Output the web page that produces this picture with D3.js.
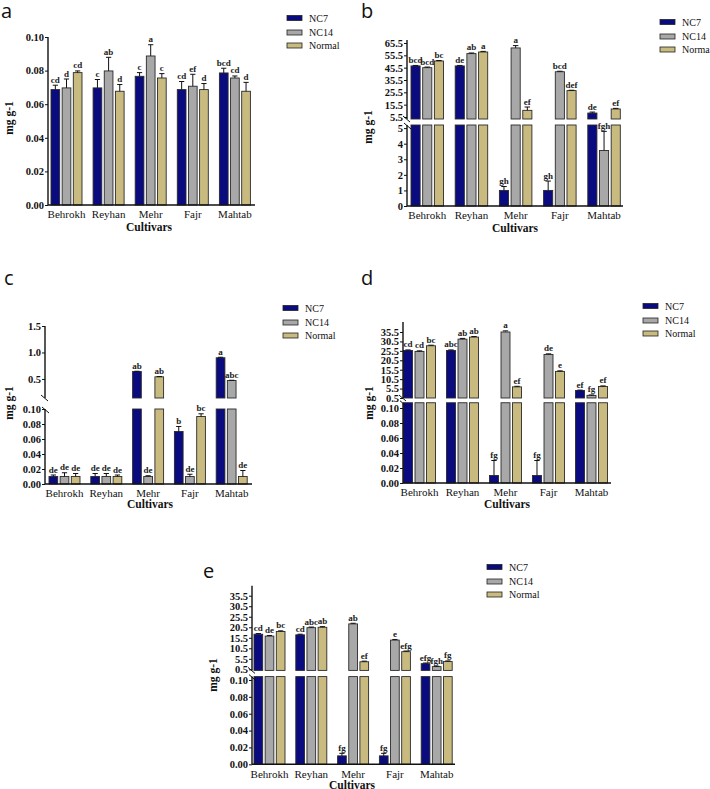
<!DOCTYPE html>
<html><head><meta charset="utf-8">
<script src="https://cdn.jsdelivr.net/npm/d3@7"></script>
<style>body{margin:0;background:#fff} svg{display:block}</style>
</head><body>
<svg id="chart" width="710" height="789"></svg>
<script>
const cultivars = ["Behrokh", "Reyhan", "Mehr", "Fajr", "Mahtab"];
const series = ["NC7", "NC14", "Normal"];
const colors = ["#0b0b80", "#a8a8a8", "#c9bb80"];

// rows: NC7, NC14, Normal ; columns: cultivars
const aMeans = [[0.0687, 0.0697, 0.0766, 0.0687, 0.0786],
                [0.0697, 0.0798, 0.0887, 0.0707, 0.0756],
                [0.0788, 0.0677, 0.0756, 0.0687, 0.0677]];
const aErrs = [[0.0026, 0.005, 0.0022, 0.0048, 0.0028],
               [0.0053, 0.0081, 0.0067, 0.0071, 0.0012],
               [0.001, 0.004, 0.0026, 0.0036, 0.0053]];
const aLetters = [["cd", "c", "c", "cd", "bcd"],
                  ["d", "ab", "a", "ef", "cd"],
                  ["cd", "d", "c", "d", "d"]];

const bMeans = [[46.9, 46.9, 1.0, 1.0, 8.7],
                [45.5, 56.9, 61.5, 42.2, 3.56],
                [50.9, 58.2, 10.9, 26.9, 12.0]];
const bErrs = [[0.4, 0.4, 0.25, 0.6, 0.8],
               [0.5, 0.5, 1.9, 0.4, 1.23],
               [0.4, 0.5, 2.7, 0.3, 0.5]];
const bLetters = [["bcd", "de", "gh", "gh", "de"],
                  ["bcd", "ab", "a", "bcd", "fgh"],
                  ["bc", "a", "ef", "def", "ef"]];

const cMeans = [[0.01, 0.01, 0.64, 0.07, 0.9],
                [0.01, 0.01, 0.01, 0.01, 0.47],
                [0.01, 0.01, 0.54, 0.09, 0.01]];
const cErrs = [[0.002, 0.004, 0.005, 0.0067, 0.01],
               [0.005, 0.004, 0.001, 0.003, 0.005],
               [0.004, 0.002, 0.005, 0.0036, 0.008]];
const cLetters = [["de", "de", "ab", "b", "a"],
                  ["de", "de", "de", "de", "abc"],
                  ["de", "de", "ab", "bc", "de"]];

const dMeans = [[25.7, 25.7, 0.01, 0.01, 4.5],
                [25.2, 31.7, 35.8, 23.6, 1.9],
                [28.2, 32.8, 6.4, 14.6, 6.6]];
const dErrs = [[0.3, 0.3, 0.02, 0.02, 0.2],
               [0.3, 0.4, 0.3, 0.3, 0.2],
               [0.3, 0.3, 0.3, 0.3, 0.3]];
const dLetters = [["cd", "abc", "fg", "fg", "ef"],
                  ["cd", "ab", "a", "de", "fg"],
                  ["bc", "ab", "ef", "e", "ef"]];

const eMeans = [[17.2, 16.9, 0.01, 0.01, 3.2],
                [16.3, 20.3, 22.1, 14.4, 1.8],
                [18.5, 20.5, 4.1, 8.9, 4.2]];
const eErrs = [[0.3, 0.3, 0.003, 0.003, 0.3],
               [0.3, 0.3, 0.3, 0.3, 0.2],
               [0.3, 0.3, 0.3, 0.3, 0.3]];
const eLetters = [["cd", "cd", "fg", "fg", "efg"],
                  ["de", "abc", "ab", "e", "fgh"],
                  ["bc", "ab", "ef", "efg", "fg"]];

const ticksSmall = [0, 0.02, 0.04, 0.06, 0.08, 0.10];
const ticksB_low = [0, 1, 2, 3, 4, 5];
const ticksB_up = [5.5, 15.5, 25.5, 35.5, 45.5, 55.5, 65.5];
const ticksC_up = [0.5, 1.0, 1.5];
const ticksDE_up = [0.5, 5.5, 10.5, 15.5, 20.5, 25.5, 30.5, 35.5];

const panels = [
  {tag: "a", means: aMeans, errs: aErrs, letters: aLetters, tagPos: [1, 18],
   axisX: 48, firstX: 51, step: 42.1, groupW: 31, xEnd: 255,
   segs: [{domain: [0, 0.1], range: [205, 37], ticks: ticksSmall, fmt: ".2f", ext: 0}],
   ylab: [9, 118], xlab: [149, 231], legend: [287, 18]},
  {tag: "b", means: bMeans, errs: bErrs, letters: bLetters, tagPos: [361, 18],
   axisX: 407, firstX: 411, step: 44.2, groupW: 32.5, xEnd: 623,
   segs: [{domain: [0, 5.2], range: [206, 125], ticks: ticksB_low, fmt: "d", ext: 0},
          {domain: [3.88, 65.5], range: [119, 43], ticks: ticksB_up, fmt: ".1f", ext: 3}],
   ylab: [368, 127], xlab: [515, 232], legend: [660, 22]},
  {tag: "c", means: cMeans, errs: cErrs, letters: cLetters, tagPos: [4, 285],
   axisX: 45, firstX: 49, step: 41.8, groupW: 31, xEnd: 252,
   segs: [{domain: [0, 0.1], range: [484, 409], ticks: ticksSmall, fmt: ".2f", ext: 0},
          {domain: [0.14, 1.5], range: [398, 326], ticks: ticksC_up, fmt: ".1f", ext: 0}],
   ylab: [9, 403], xlab: [150, 508], legend: [283, 308]},
  {tag: "d", means: dMeans, errs: dErrs, letters: dLetters, tagPos: [361, 285],
   axisX: 403, firstX: 403.5, step: 43, groupW: 32, xEnd: 611,
   segs: [{domain: [0, 0.107], range: [483, 402.75], ticks: ticksSmall, fmt: ".2f", ext: 0},
          {domain: [0.5, 35.5], range: [398, 332], ticks: ticksDE_up, fmt: ".1f", ext: 10}],
   ylab: [369, 403], xlab: [507, 508], legend: [643, 306]},
  {tag: "e", means: eMeans, errs: eErrs, letters: eLetters, tagPos: [203, 578],
   axisX: 252, firstX: 254, step: 41.8, groupW: 31, xEnd: 455,
   segs: [{domain: [0, 0.104], range: [764.3, 676.6], ticks: ticksSmall, fmt: ".2f", ext: 0},
          {domain: [0, 35.5], range: [670.4, 595.7], ticks: ticksDE_up, fmt: ".1f", ext: 10}],
   ylab: [213, 675], xlab: [352, 789], legend: [487, 567]}
];

const svg = d3.select("#chart");
const serif = "Liberation Serif";

panels.forEach(p => {
  const g = svg.append("g");
  const pad = 1 - p.groupW / p.step;
  const x0 = d3.scaleBand().domain(cultivars)
    .range([p.firstX, p.firstX + p.step * (cultivars.length - pad)])
    .paddingInner(pad).paddingOuter(0);
  const x1 = d3.scaleBand().domain(series).range([0, x0.bandwidth()]).paddingInner(0.22);
  const segs = p.segs.map(s => Object.assign({}, s, {y: d3.scaleLinear().domain(s.domain).range(s.range)}));
  const low = segs[0];
  const lowMax = low.domain[1];

  // bars
  series.forEach((sName, si) => {
    cultivars.forEach((c, ci) => {
      const v = p.means[si][ci];
      const bx = x0(c) + x1(sName);
      const bw = x1.bandwidth();
      segs.forEach((s, k) => {
        const d0 = k === 0 ? 0 : s.domain[0];
        if (k > 0 && v <= lowMax) return;
        const top = s.y(Math.min(v, s.domain[1]));
        const bot = s.y(d0);
        if (bot - top <= 0) return;
        g.append("rect").attr("x", bx).attr("y", top).attr("width", bw).attr("height", bot - top)
          .attr("fill", colors[si]).attr("stroke", "#2a2a2a").attr("stroke-width", 0.9);
      });
      // error bar + letter
      const s = (v > lowMax && segs.length > 1) ? segs[1] : low;
      const e = p.errs[si][ci];
      const yv = s.y(v), ye = s.y(v + e);
      const cx = bx + bw / 2;
      g.append("line").attr("x1", cx).attr("x2", cx).attr("y1", yv).attr("y2", ye)
        .attr("stroke", "#111").attr("stroke-width", 1);
      g.append("line").attr("x1", cx - bw * 0.3).attr("x2", cx + bw * 0.3).attr("y1", ye).attr("y2", ye)
        .attr("stroke", "#111").attr("stroke-width", 1);
      g.append("text").attr("x", cx).attr("y", ye - 2.5).attr("text-anchor", "middle")
        .attr("font-family", serif).attr("font-size", 9).attr("font-weight", "bold").attr("fill", "#222")
        .text(p.letters[si][ci]);
    });
  });

  // y axes
  segs.forEach((s, k) => {
    const ax = g.append("g").attr("transform", `translate(${p.axisX},0)`)
      .call(d3.axisLeft(s.y).tickValues(s.ticks).tickFormat(d3.format(s.fmt)).tickSize(3).tickSizeOuter(0))
      .attr("font-family", serif).attr("font-size", 10.5).attr("font-weight", "bold");
    ax.select(".domain").remove();
    ax.selectAll(".tick line").attr("stroke", "#111").attr("stroke-width", 1);
    ax.selectAll(".tick text").attr("fill", "#111").attr("x", -4);
    g.append("line").attr("x1", p.axisX).attr("x2", p.axisX)
      .attr("y1", s.range[0]).attr("y2", s.range[1] - s.ext)
      .attr("stroke", "#111").attr("stroke-width", 1.4);
  });
  if (segs.length > 1) {
    const yt = low.range[1], yb = segs[1].range[0];
    g.append("line").attr("x1", p.axisX - 4).attr("x2", p.axisX + 3).attr("y1", yb - 3).attr("y2", yb + 3)
      .attr("stroke", "#111").attr("stroke-width", 1);
    g.append("line").attr("x1", p.axisX - 3).attr("x2", p.axisX + 4).attr("y1", yt - 2).attr("y2", yt + 4)
      .attr("stroke", "#111").attr("stroke-width", 1);
  }

  // x axis
  const yBase = low.range[0];
  const xa = g.append("g").attr("transform", `translate(0,${yBase})`)
    .call(d3.axisBottom(x0).tickSize(0))
    .attr("font-family", serif).attr("font-size", 11);
  xa.select(".domain").remove();
  xa.selectAll(".tick text").attr("fill", "#111").attr("dy", "0.95em").attr("y", 3);
  g.append("line").attr("x1", p.axisX).attr("x2", p.xEnd).attr("y1", yBase).attr("y2", yBase)
    .attr("stroke", "#111").attr("stroke-width", 1.4);

  // axis titles
  g.append("text").attr("x", p.xlab[0]).attr("y", p.xlab[1]).attr("text-anchor", "middle")
    .attr("font-family", serif).attr("font-size", 11.5).attr("font-weight", "bold").attr("fill", "#111")
    .text("Cultivars");
  g.append("text").attr("transform", `translate(${p.ylab[0]},${p.ylab[1]}) rotate(-90)`)
    .attr("text-anchor", "middle").attr("dy", "0.35em")
    .attr("font-family", serif).attr("font-size", 11.5).attr("font-weight", "bold").attr("fill", "#111")
    .text("mg g-1");

  // panel tag
  g.append("text").attr("x", p.tagPos[0]).attr("y", p.tagPos[1])
    .attr("font-family", "Open Sans").attr("font-size", 20).attr("fill", "#111")
    .text(p.tag);

  // legend
  const lg = g.append("g").attr("transform", `translate(${p.legend[0]},${p.legend[1]})`);
  const ls = [0, 14.5, 27.5];
  series.forEach((sName, si) => {
    lg.append("rect").attr("x", 0).attr("y", ls[si] - 2.5).attr("width", 15).attr("height", 5)
      .attr("fill", colors[si]).attr("stroke", "#222").attr("stroke-width", 0.8);
    lg.append("text").attr("x", 22).attr("y", ls[si]).attr("dy", "0.35em")
      .attr("font-family", serif).attr("font-size", 10).attr("fill", "#111").text(sName);
  });
});
</script>
</body></html>
